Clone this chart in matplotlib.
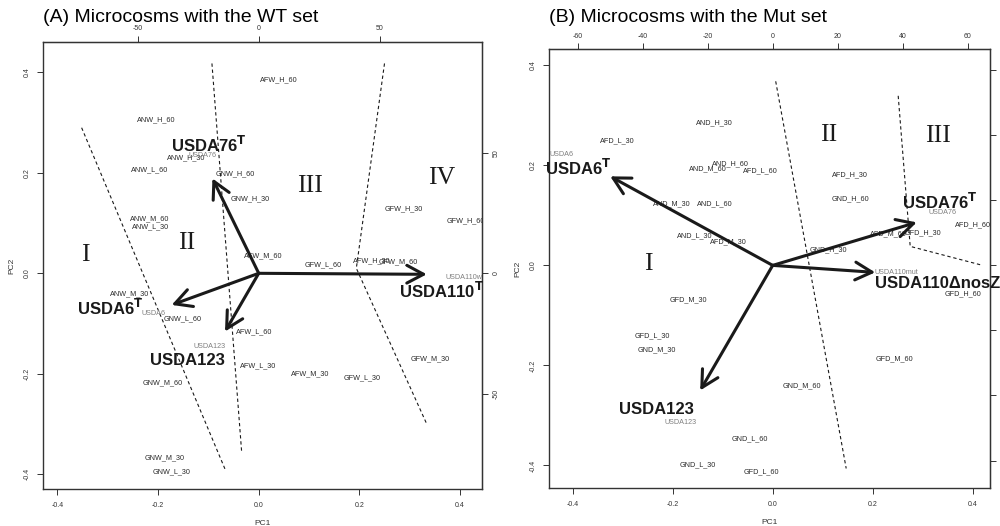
import matplotlib.pyplot as plt
from matplotlib.patches import FancyArrowPatch

plt.rcParams['font.family'] = ['Liberation Sans', 'DejaVu Sans']
plt.rcParams['axes.unicode_minus'] = False

# ---- (A) WT set -------------------------------------------------------------
wt_samples = ['ANW_H_60', 'ANW_H_30', 'ANW_L_60', 'GNW_H_60', 'GNW_H_30', 'ANW_M_60',
              'ANW_L_30', 'AFW_H_60', 'AFW_M_60', 'GFW_L_60', 'AFW_H_30', 'GFW_M_60',
              'GFW_H_30', 'GFW_H_60', 'ANW_M_30', 'GNW_L_60', 'AFW_L_60', 'AFW_L_30',
              'AFW_M_30', 'GFW_L_30', 'GFW_M_30', 'GNW_M_60', 'GNW_M_30', 'GNW_L_30']
wt_pc1 = [-0.204, -0.144, -0.216, -0.047, -0.017, -0.216, -0.216, 0.039, 0.009, 0.128,
          0.225, 0.277, 0.289, 0.412, -0.256, -0.152, -0.009, -0.001, 0.103, 0.205,
          0.341, -0.191, -0.188, -0.173]
wt_pc2 = [0.305, 0.230, 0.207, 0.198, 0.149, 0.108, 0.093, 0.385, 0.034, 0.018,
          0.024, 0.022, 0.128, 0.105, -0.040, -0.090, -0.117, -0.185, -0.201, -0.209,
          -0.171, -0.219, -0.367, -0.396]

# strain loadings (arrow tips) and the small labels printed by biplot
wt_strains = ['USDA76', 'USDA6', 'USDA123', 'USDA110wt']
wt_load1 = [-0.092, -0.173, -0.067, 0.334]
wt_load2 = [0.189, -0.063, -0.116, -0.002]
wt_strain_lab1 = [-0.111, -0.210, -0.097, 0.410]
wt_strain_lab2 = [0.234, -0.081, -0.146, -0.008]

# large strain names added on top
wt_names = [r'USDA76$^{\mathbf{T}}$', r'USDA6$^{\mathbf{T}}$', 'USDA123', r'USDA110$^{\mathbf{T}}$']
wt_name1 = [-0.100, -0.296, -0.141, 0.364]
wt_name2 = [0.256, -0.070, -0.173, -0.035]

wt_groups = ['I', 'II', 'III', 'IV']
wt_group1 = [-0.345, -0.143, 0.102, 0.364]
wt_group2 = [0.036, 0.061, 0.173, 0.189]

wt_bounds = [
    ([-0.352, -0.067], [0.290, -0.390]),
    ([-0.093, -0.034], [0.418, -0.355]),
    ([0.250, 0.194, 0.333], [0.418, 0.010, -0.298]),
]

# ---- (B) Mut set ------------------------------------------------------------
mut_samples = ['AND_H_30', 'AFD_L_30', 'AND_H_60', 'AND_M_60', 'AFD_L_60', 'AND_M_30',
               'AND_L_60', 'AND_L_30', 'AFD_M_30', 'AFD_H_30', 'GND_H_60', 'AFD_H_60',
               'AFD_M_60', 'GFD_H_30', 'GND_H_30', 'GFD_H_60', 'GFD_M_60', 'GND_M_60',
               'GFD_M_30', 'GFD_L_30', 'GND_M_30', 'GND_L_60', 'GND_L_30', 'GFD_L_60']
mut_pc1 = [-0.117, -0.311, -0.085, -0.129, -0.025, -0.202, -0.115, -0.155, -0.089, 0.155,
           0.156, 0.401, 0.231, 0.301, 0.111, 0.381, 0.243, 0.058, -0.169, -0.241,
           -0.232, -0.045, -0.149, -0.022]
mut_pc2 = [0.286, 0.250, 0.204, 0.194, 0.189, 0.123, 0.123, 0.059, 0.048, 0.181,
           0.134, 0.081, 0.064, 0.066, 0.032, -0.056, -0.186, -0.240, -0.069, -0.140,
           -0.169, -0.346, -0.398, -0.412]

mut_strains = ['USDA6', 'USDA76', 'USDA110mut', 'USDA123']
mut_load1 = [-0.325, 0.288, 0.205, -0.145]
mut_load2 = [0.178, 0.086, -0.014, -0.250]
mut_strain_lab1 = [-0.422, 0.340, 0.248, -0.184]
mut_strain_lab2 = [0.221, 0.106, -0.014, -0.314]

mut_names = [r'USDA6$^{\mathbf{T}}$', r'USDA76$^{\mathbf{T}}$', 'USDA110\u0394nosZ', 'USDA123']
mut_name1 = [-0.389, 0.335, 0.205, -0.232]
mut_name2 = [0.194, 0.126, -0.036, -0.289]
mut_name_ha = ['center', 'center', 'left', 'center']

mut_groups = ['I', 'II', 'III']
mut_group1 = [-0.249, 0.111, 0.330]
mut_group2 = [0.003, 0.261, 0.259]

mut_bounds = [
    ([0.006, 0.147], [0.368, -0.406]),
    ([0.251, 0.275, 0.420], [0.339, 0.038, 0.000]),
]

SANS = ['Liberation Sans', 'DejaVu Sans']


def biplot_panel(ax, samples, pc1, pc2, strains, load1, load2, slab1, slab2,
                 names, name1, name2, groups, g1, g2, bounds, xlim, ylim,
                 scale, top_ticks, right_ticks, title, name_ha=None):
    ax.set_xlim(*xlim)
    ax.set_ylim(*ylim)

    for s, x, y in zip(samples, pc1, pc2):
        ax.text(x, y, s, fontsize=5.2, color='#2a2a2a', ha='center', va='center',
                family=SANS, clip_on=True)
    for s, x, y in zip(strains, slab1, slab2):
        ax.text(x, y, s, fontsize=5.2, color='#808080', ha='center', va='center',
                family=SANS, clip_on=True)

    for x, y in zip(load1, load2):
        ax.add_patch(FancyArrowPatch((0, 0), (x, y),
                                     arrowstyle='->,head_length=0.6,head_width=0.32',
                                     mutation_scale=20, lw=2.2, color='#1a1a1a',
                                     shrinkA=0, shrinkB=0, zorder=4))

    if name_ha is None:
        name_ha = ['center'] * len(names)
    for s, x, y, ha in zip(names, name1, name2, name_ha):
        ax.text(x, y, s, fontsize=12, fontweight='bold', color='#1a1a1a',
                ha=ha, va='center', family=SANS, zorder=5)

    for s, x, y in zip(groups, g1, g2):
        ax.text(x, y, s, fontsize=18.5, family='Liberation Serif', ha='center',
                va='center', color='#1a1a1a')

    for bx, by in bounds:
        ax.plot(bx, by, ls=(0, (3, 2.5)), lw=0.8, color='#1a1a1a')

    for sp in ax.spines.values():
        sp.set_linewidth(1.0)
        sp.set_color('#333333')
    ax.set_xticks([-0.4, -0.2, 0.0, 0.2, 0.4])
    ax.set_yticks([-0.4, -0.2, 0.0, 0.2, 0.4])
    ax.set_xticklabels(['-0.4', '-0.2', '0.0', '0.2', '0.4'])
    ax.set_yticklabels(['-0.4', '-0.2', '0.0', '0.2', '0.4'])
    ax.tick_params(labelsize=5, colors='#333333', length=4, width=0.7, pad=5)
    for lab in ax.get_yticklabels():
        lab.set_rotation(90)
        lab.set_va('center')
    ax.set_xlabel('PC1', fontsize=6, labelpad=8, color='#333333')
    ax.set_ylabel('PC2', fontsize=6, labelpad=6, color='#333333')

    top = ax.secondary_xaxis('top', functions=(lambda v: v * scale, lambda v: v / scale))
    top.set_xticks(top_ticks)
    top.tick_params(labelsize=5, colors='#333333', length=4, width=0.7, pad=3)
    right = ax.secondary_yaxis('right', functions=(lambda v: v * scale, lambda v: v / scale))
    right.set_yticks(right_ticks)
    right.tick_params(labelsize=5, colors='#333333', length=4, width=0.7, pad=4)
    for lab in right.get_yticklabels():
        lab.set_rotation(90)
        lab.set_va('center')

    ax.figure.text(ax.get_position().x0, 0.967, title, fontsize=14, va='center', ha='left')


fig = plt.figure(figsize=(10, 5.26), dpi=100)
ax_a = fig.add_axes([0.043, 0.0703, 0.439, 0.8499])
ax_b = fig.add_axes([0.5493, 0.0717, 0.4407, 0.8346])

biplot_panel(ax_a, wt_samples, wt_pc1, wt_pc2, wt_strains, wt_load1, wt_load2,
             wt_strain_lab1, wt_strain_lab2, wt_names, wt_name1, wt_name2,
             wt_groups, wt_group1, wt_group2, wt_bounds,
             (-0.4288, 0.4438), (-0.4297, 0.4608), 208.2, [-50, 0, 50], [-50, 0, 50],
             '(A) Microcosms with the WT set')

biplot_panel(ax_b, mut_samples, mut_pc1, mut_pc2, mut_strains, mut_load1, mut_load2,
             mut_strain_lab1, mut_strain_lab2, mut_names, mut_name1, mut_name2,
             mut_groups, mut_group1, mut_group2, mut_bounds,
             (-0.4468, 0.4346), (-0.4456, 0.432), 153.8,
             [-60, -40, -20, 0, 20, 40, 60], [-60, -40, -20, 0, 20, 40, 60],
             '(B) Microcosms with the Mut set', name_ha=mut_name_ha)

fig.savefig('out.png', dpi=100)
